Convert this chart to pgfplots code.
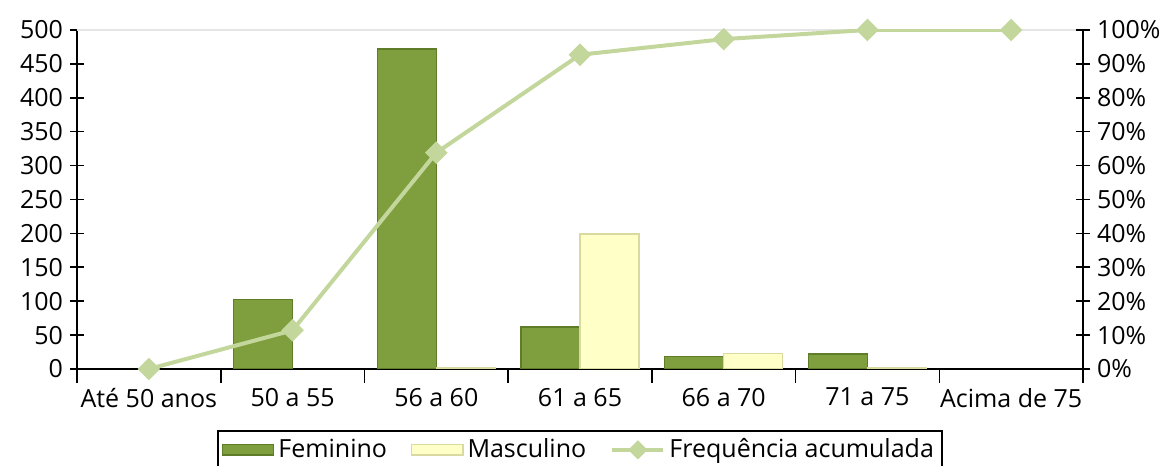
\documentclass[border=0pt]{standalone}
\usepackage{pgfplots}
\pgfplotsset{compat=1.18}
\usepackage{fontspec}
\setmainfont{Open Sans}
\definecolor{fem}{HTML}{7F9E3E}
\definecolor{femd}{HTML}{5F7D28}
\definecolor{mas}{HTML}{FFFFC8}
\definecolor{masd}{HTML}{DADAA0}
\definecolor{lin}{HTML}{C3D69B}
\begin{document}
\begin{tikzpicture}[font=\fontsize{12.5}{15}\selectfont]
\pgfplotsset{every axis/.append style={scale only axis, width=503pt, height=169.5pt,
  xmin=-0.5, xmax=6.5, enlargelimits=false,
  /pgf/number format/assume math mode=true,
  tick align=center, major tick length=7pt,
  tick style={black, line width=0.8pt},
  axis line style={black, line width=0.8pt}}}
\begin{axis}[name=ax,
  ymin=0, ymax=500, ytick={0,50,...,500},
  axis y line*=left, axis x line*=bottom,
  ybar=0pt, bar width=29.5pt,
  xtick={-0.5,0.5,1.5,2.5,3.5,4.5,5.5,6.5}, xticklabels={},
  extra x ticks={0,1,2,3,4,5,6},
  extra x tick labels={Até 50 anos,50 a 55,56 a 60,61 a 65,66 a 70,71 a 75,Acima de 75},
  extra x tick style={major tick length=0pt, xticklabel style={yshift=-6pt}},
  legend style={at={(0.5,-0.18)}, anchor=north, legend columns=3, draw=black, line width=0.8pt,
    font=\fontsize{12.5}{15}\selectfont, inner sep=2pt,
    /tikz/every even column/.append style={column sep=10pt}},
  legend image code/.code={\draw[#1] (0cm,-0.09cm) rectangle (0.9cm,0.09cm);},
]
\draw[gray!20, line width=1.2pt] (rel axis cs:0,1) -- (rel axis cs:1,1);
\addplot[fill=fem, draw=femd, line width=0.6pt] coordinates {(1,103) (2,472) (3,62) (4,19) (5,22)};
\addlegendentry{Feminino}
\addplot[fill=mas, draw=masd, line width=0.6pt] coordinates {(2,2) (3,199) (4,23) (5,2)};
\addlegendentry{Masculino}
\addlegendimage{legend image code/.code={
  \draw[lin, line width=2pt] (0cm,0cm) -- (0.9cm,0cm);
  \fill[lin] (0.45cm,0cm) ++(-4.2pt,0pt) -- ++(4.2pt,4.2pt) -- ++(4.2pt,-4.2pt) -- ++(-4.2pt,-4.2pt) -- cycle;}}
\addlegendentry{Frequência acumulada}
\end{axis}
\begin{axis}[
  ymin=0, ymax=100, ytick={0,10,...,100},
  yticklabel={\pgfmathprintnumber{\tick}\%},
  axis y line*=right, axis x line=none,
]
\addplot[lin, line width=2pt, mark=square*, mark size=3pt, mark options={rotate=45, fill=lin, draw=lin}]
  coordinates {(0,0) (1,11.4) (2,63.8) (3,92.7) (4,97.3) (5,100) (6,100)};
\end{axis}
\pgfresetboundingbox
\path[use as bounding box] ([shift={(-38.5pt,-48.5pt)}]ax.south west) rectangle ([shift={(45.5pt,15pt)}]ax.north east);
\end{tikzpicture}
\end{document}
